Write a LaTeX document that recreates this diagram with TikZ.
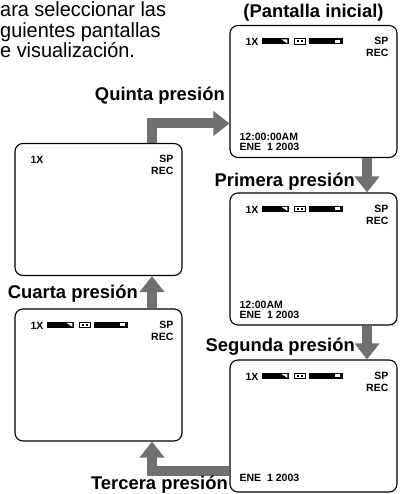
\documentclass[tikz,border=0pt]{standalone}
\usepackage{fontspec}
\setmainfont{Liberation Sans}
\usetikzlibrary{arrows.meta}
\definecolor{arrowgray}{RGB}{112,112,112}
\tikzset{
 screen/.style={draw, line width=1.1pt, rounded corners=8pt, minimum width=167pt, minimum height=132pt, inner sep=0pt},
 bigarrow/.style={draw=arrowgray, line width=10pt, -{Triangle[width=24pt,length=16pt]}},
 lbl/.style={font=\bfseries\fontsize{18.4}{20}\selectfont, inner sep=0pt},
 tinytxt/.style={font=\bfseries\fontsize{10.5}{11}\selectfont, inner sep=0pt},
 para/.style={font=\fontsize{20.5}{22}\selectfont, inner sep=0pt, anchor=base west},
 indic/.pic={
   \node[tinytxt, anchor=west] (-onex) at (16,17) {1X};
   \fill (33,13.5) rectangle (60,19.5);
   \fill[white] (52,14.5) -- (58,14.5) -- (58,18.5) -- cycle;
   \draw[line width=0.8pt] (65.4,13.9) rectangle (75.6,19.1);
   \fill (67.5,15.5) rectangle (69.5,17.5);
   \fill (71.5,15.5) rectangle (73.5,17.5);
   \fill (80,13.5) rectangle (114,19.5);
   \fill[white] (106,15) rectangle (111,18);
 },
 onlyx/.pic={
   \node[tinytxt, anchor=west] (-onex) at (16,17) {1X};
 },
 sprec/.pic={
   \node[tinytxt, anchor=east] (-sp) at (-9,16) {SP};
   \node[tinytxt, anchor=east] (-rec) at (-9,28) {REC};
 },
}
\begin{document}
\begin{tikzpicture}[x=1pt,y=-1pt]
\useasboundingbox (0,0) rectangle (400,494);
% paragraph (cut at left)
\node[para] (p1) at (0,17) {\scalebox{0.97}[1]{ara seleccionar las}};
\node[para] (p2) at (0,37.5) {\scalebox{0.97}[1]{guientes pantallas}};
\node[para] (p3) at (0,58) {\scalebox{0.97}[1]{e visualización.}};
% screens
\node[screen] (A) at (313.5,91.5) {};
\node[screen] (B) at (313.5,259) {};
\node[screen] (C) at (313.5,426) {};
\node[screen] (D) at (98.5,375) {};
\node[screen] (E) at (98.5,209.5) {};
\node[lbl, anchor=base] (title) at (313.5,18) {(Pantalla inicial)};
% screen contents
\pic (ia) at (A.north west) {indic};
\pic (sa) at (A.north east) {sprec};
\node[tinytxt, anchor=west] (a1) at ([shift={(10,-21)}]A.south west) {12:00:00AM};
\node[tinytxt, anchor=west] (a2) at ([shift={(10,-11)}]A.south west) {ENE~~1 2003};
\pic (ib) at (B.north west) {indic};
\pic (sb) at (B.north east) {sprec};
\node[tinytxt, anchor=west] (b1) at ([shift={(10,-21)}]B.south west) {12:00AM};
\node[tinytxt, anchor=west] (b2) at ([shift={(10,-11)}]B.south west) {ENE~~1 2003};
\pic (ic) at (C.north west) {indic};
\pic (sc) at (C.north east) {sprec};
\node[tinytxt, anchor=west] (c2) at ([shift={(10,-15)}]C.south west) {ENE~~1 2003};
\pic (id) at (D.north west) {indic};
\pic (sd) at (D.north east) {sprec};
\pic (ie) at (E.north west) {onlyx};
\pic (se) at (E.north east) {sprec};
% arrows
\draw[bigarrow] (E.north -| 152,0) |- (A.west |- 0,123.5);
\draw[bigarrow] (A.south -| 367,0) -- (B.north -| 367,0);
\draw[bigarrow] (B.south -| 367,0) -- (C.north -| 367,0);
\draw[bigarrow] (C.west |- 0,471) -| (D.south -| 152,0);
\draw[bigarrow] (D.north -| 152,0) -- (E.south -| 152,0);
% labels
\node[lbl, anchor=base east] (l5) at (225,101) {Quinta presión};
\node[lbl, anchor=base east] (l1) at (355,186) {Primera presión};
\node[lbl, anchor=base east] (l2) at (355,351) {Segunda presión};
\node[lbl, anchor=base east] (l4) at (138,298) {Cuarta presión};
\node[lbl, anchor=base east] (l3) at (228,489.5) {Tercera presión};
\end{tikzpicture}
\end{document}
